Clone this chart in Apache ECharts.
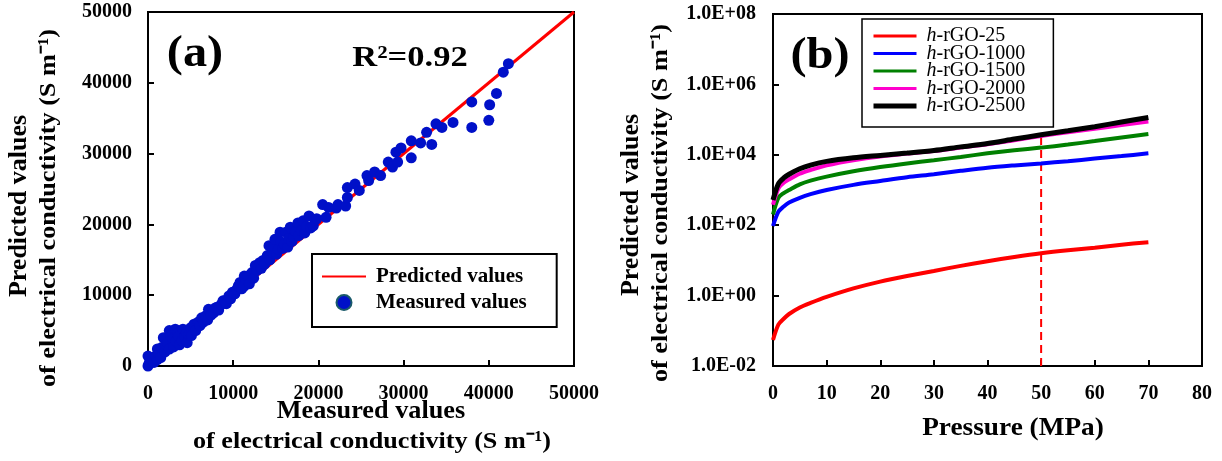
<!DOCTYPE html>
<html><head><meta charset="utf-8">
<script src="https://cdn.jsdelivr.net/npm/echarts@6/dist/echarts.min.js"></script>
<style>html,body{margin:0;padding:0;background:#fff}#c{width:1222px;height:461px}</style>
</head><body><div id="c"></div>
<script>
// ---------- Panel (a) data ----------
const measuredA = [0,100,200,300,0,500,700,900,1100,
 1100,1300,1600,1500,1800,2000,2100,2300,2500,2500,2700,2900,3000,3200,3300,3500,3600,3700,4000,4100,4300,4500,4600,4800,5000,5100,
 5400,5600,5900,6100,6300,6500,6800,7000,7100,7400,7700,7900,8100,8300,8600,8800,9000,9200,9500,9700,9900,
 10200,10400,10600,10800,11000,11300,11300,11500,11700,11900,12200,12400,12600,12800,13100,13300,13500,13700,14000,14200,14300,14600,14800,14900,
 15100,15300,15500,15600,15800,16000,16200,16400,16500,16700,16900,17100,17300,17600,17700,18000,18200,18400,18600,18900,19100,19400,19600,19800,
 20500,20900,21200,22100,22300,23200,23400,23400,24300,24800,25700,25900,26600,27300,28200,28700,29100,29300,29700,30900,30900,32000,32700,33300,33800,34500,35800,38000,38000,40000,40100,40900,41700,42300];
const predictedA = [0,250,600,1000,1400,900,500,1400,900,
 2400,1700,2600,1200,4000,2000,3000,3300,5000,2400,4200,3800,2700,5200,3500,4600,4200,3000,3600,5200,4200,4700,3300,4400,5400,4300,
 5900,5000,6200,5700,6800,6200,7100,6500,8000,7200,7500,8200,8300,7900,8700,9200,9200,8800,9900,9500,10400,
 10200,10800,11300,11800,10900,12700,11300,12200,12700,11600,13200,12400,14200,13500,14600,13800,14900,14400,15600,17000,15000,16000,16900,17900,
 15800,16500,18900,17500,16600,17200,18900,16800,18000,19600,17600,18200,19000,20200,18400,19100,20500,18800,19700,21200,19500,19800,20600,20800,
 22800,21000,22400,22300,22800,22600,23800,25200,25700,24800,26900,26200,27400,26900,28800,28100,30200,28800,30800,31800,29400,31500,33000,31300,34200,33700,34400,37300,33700,34700,36900,38500,41500,42700];
const lineA = [0, 50000];

// ---------- Panel (b) data ----------
const pressure = [0,1,2,3,5,7,10,15,20,25,30,35,40,45,50,55,60,65,70];
const rGO25   = [0.055,0.15,0.22,0.30,0.46,0.62,0.92,1.6,2.5,3.6,5.0,7.0,9.5,12.5,16,19.5,23,28,33];
const rGO1000 = [95,240,340,440,600,760,1000,1400,1800,2300,2800,3500,4300,5000,5700,6600,7800,9200,11000];
const rGO1500 = [200,600,820,1000,1450,1850,2400,3400,4500,5700,7000,8700,11000,13500,16000,19500,24500,31000,39000];
const rGO2000 = [380,1100,1600,2000,2900,3700,5000,7000,9000,10800,12800,16000,20000,26000,34000,44000,55000,70000,88000];
const rGO2500 = [520,1500,2200,2800,4000,5100,6500,8200,9600,11200,13300,16800,21000,28000,37000,48000,63000,85000,115000];
const seriesNamesB = ['h-rGO-25','h-rGO-1000','h-rGO-1500','h-rGO-2000','h-rGO-2500'];
const dashedX = [50, 50];
const dashedY = [0.01, 37000];

const FONT = 'Liberation Serif';
const zip = (a,b) => a.map((v,i)=>[v,b[i]]);
function sci(v){
  const e = Math.round(Math.log10(v));
  return '1.0E' + (e<0?'-':'+') + String(Math.abs(e)).padStart(2,'0');
}
const lbl = (extra) => Object.assign({color:'#000',fontFamily:FONT,fontWeight:'bold',fontSize:20}, extra);
const axisCommon = {
  axisLine:{show:true,lineStyle:{color:'#000',width:2}},
  axisTick:{show:true,inside:true,length:6,lineStyle:{color:'#000',width:2}},
  splitLine:{show:false}
};
const bColors = ['#ff0000','#0000ff','#008000','#ff00cc','#000000'];
const bData = [rGO25,rGO1000,rGO1500,rGO2000,rGO2500];

function txt(x,y,text,size,opts){
  opts = opts || {};
  return {type:'text', x:x, y:y, rotation:opts.rot||0, scaleX:opts.sx||1,
    style:{text:text, font:'bold '+size+'px '+FONT, fill:'#000', textAlign:'center', textVerticalAlign:'middle'}};
}

const chart = echarts.init(document.getElementById('c'));
chart.setOption({
  animation:false,
  backgroundColor:'#fff',
  grid:[
    {left:148, top:12, width:426, height:354, show:true, borderColor:'#000', borderWidth:2, backgroundColor:'transparent'},
    {left:773, top:14, width:429, height:352, show:true, borderColor:'#000', borderWidth:2, backgroundColor:'transparent'}
  ],
  xAxis:[
    Object.assign({}, axisCommon, {type:'value', gridIndex:0, min:0, max:50000, interval:10000,
      axisLabel:lbl({margin:18, formatter:v=>String(v)})}),
    Object.assign({}, axisCommon, {type:'value', gridIndex:1, min:0, max:80, interval:10,
      axisLabel:lbl({margin:18})})
  ],
  yAxis:[
    Object.assign({}, axisCommon, {type:'value', gridIndex:0, min:0, max:50000, interval:10000,
      axisLabel:lbl({margin:16, formatter:v=>String(v)})}),
    Object.assign({}, axisCommon, {type:'log', logBase:10, gridIndex:1, min:0.01, max:1e8, interval:2,
      axisLabel:lbl({margin:17, formatter:sci})})
  ],
  legend:[
    {left:312, top:254, orient:'vertical', itemWidth:44, itemHeight:15, itemGap:5,
     padding:[12,30,14,9], borderColor:'#000', borderWidth:2, backgroundColor:'#fff',
     itemStyle:{opacity:0},
     textStyle:{fontFamily:FONT, fontWeight:'bold', fontSize:21, color:'#000',
       rich:{t:{fontFamily:FONT, fontWeight:'bold', fontSize:21, color:'#000', padding:[0,0,0,5]}}},
     formatter:n => '{t|' + n + '}',
     data:[{name:'Predicted values'},{name:'Measured values', icon:'circle', itemStyle:{opacity:1, color:'#0010c8', borderColor:'#1a5a6a', borderWidth:2}}]},
    {left:862, top:19, orient:'vertical', itemWidth:43, itemHeight:12, itemGap:-2.5,
     padding:[7,28,11,9], borderColor:'#000', borderWidth:1.5, backgroundColor:'#fff',
     itemStyle:{opacity:0},
     textStyle:{fontFamily:FONT, fontSize:20, color:'#000', lineHeight:17,
       rich:{i:{fontFamily:FONT, fontStyle:'italic', fontSize:20, lineHeight:17, color:'#000', padding:[0,0,0,5]},
             n:{fontFamily:FONT, fontSize:20, lineHeight:17, color:'#000'}}},
     formatter:n => '{i|h}{n|' + n.slice(1) + '}',
     data:seriesNamesB.map((n,i)=>({name:n, lineStyle:{width:i===4?5:3}}))}
  ],
  series:[
    {name:'Predicted values', type:'line', xAxisIndex:0, yAxisIndex:0, data:zip(lineA,lineA),
     symbol:'none', lineStyle:{color:'#ff0000', width:3}, itemStyle:{color:'#ff0000'}, z:2},
    {name:'Measured values', type:'scatter', xAxisIndex:0, yAxisIndex:0, data:zip(measuredA,predictedA),
     symbol:'circle', symbolSize:11, itemStyle:{color:'#0010c8', opacity:1}, z:3},
    ...bData.map((d,i)=>({name:seriesNamesB[i], type:'line', xAxisIndex:1, yAxisIndex:1, data:zip(pressure,d),
      symbol:'none', smooth:0.3, lineStyle:{color:bColors[i], width:i===4?5:4}, itemStyle:{color:bColors[i]}, z:3+i})),
    {name:'marker', type:'line', xAxisIndex:1, yAxisIndex:1, data:zip(dashedX,dashedY), symbol:'none',
     lineStyle:{color:'#ff0000', width:2, type:[8,5]}, z:2}
  ],
  graphic:[
    txt(195,55,'(a)',44,{sx:1.1}),
    txt(410,58,'R²=0.92',30,{sx:1.15}),
    txt(820,57,'(b)',44,{sx:1.1}),
    txt(371,412,'Measured values',25,{sx:1.05}),
    txt(372,442,'of electrical conductivity (S m⁻¹)',24,{sx:1.09}),
    txt(20,206,'Predicted values',25,{rot:Math.PI/2, sx:1.04}),
    txt(49,208,'of electrical conductivity (S m⁻¹)',24,{rot:Math.PI/2, sx:1.09}),
    txt(1013,428,'Pressure (MPa)',26,{sx:1.05}),
    txt(632,205,'Predicted values',25,{rot:Math.PI/2, sx:1.04}),
    txt(661,203,'of electrical conductivity (S m⁻¹)',24,{rot:Math.PI/2, sx:1.09})
  ]
});
</script></body></html>
